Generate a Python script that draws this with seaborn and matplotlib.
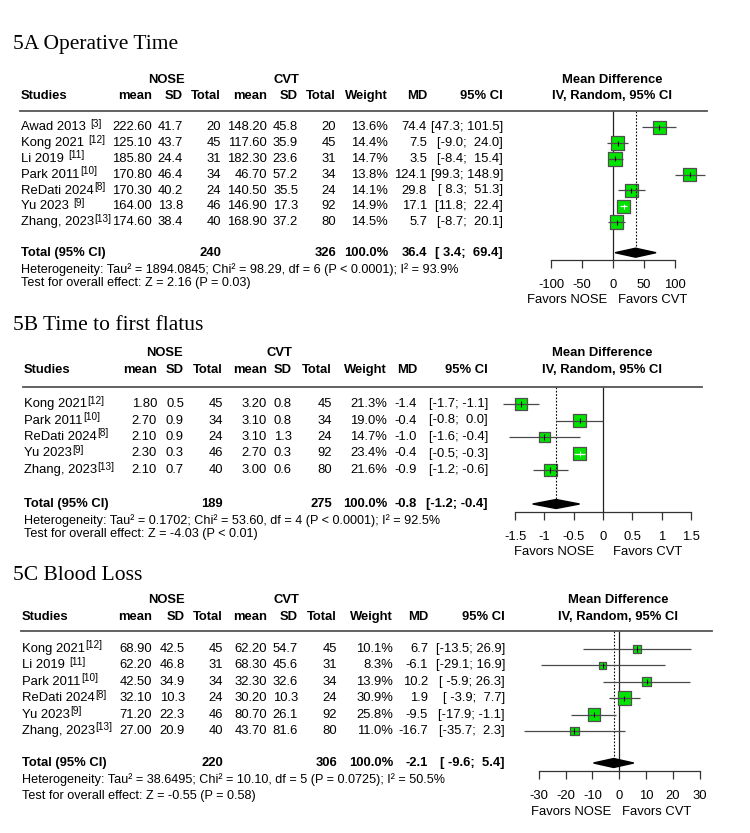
import seaborn as sns
import matplotlib.pyplot as plt
from matplotlib.lines import Line2D
import numpy as np
import pandas as pd

# ---- 5A Operative Time ----
a_studies = ["Awad 2013 ", "Kong 2021 ", "Li 2019 ", "Park 2011", "ReDati 2024", "Yu 2023 ", "Zhang, 2023"]
a_refs = ["[3]", "[12]", "[11]", "[10]", "[8]", "[9]", "[13]"]
a_nose_mean = [222.60, 125.10, 185.80, 170.80, 170.30, 164.00, 174.60]
a_nose_sd = [41.7, 43.7, 24.4, 46.4, 40.2, 13.8, 38.4]
a_nose_n = [20, 45, 31, 34, 24, 46, 40]
a_cvt_mean = [148.20, 117.60, 182.30, 46.70, 140.50, 146.90, 168.90]
a_cvt_sd = [45.8, 35.9, 23.6, 57.2, 35.5, 17.3, 37.2]
a_cvt_n = [20, 45, 31, 34, 24, 92, 80]
a_weight = [13.6, 14.4, 14.7, 13.8, 14.1, 14.9, 14.5]
a_md = [74.4, 7.5, 3.5, 124.1, 29.8, 17.1, 5.7]
a_lo = [47.3, -9.0, -8.4, 99.3, 8.3, 11.8, -8.7]
a_hi = [101.5, 24.0, 15.4, 148.9, 51.3, 22.4, 20.1]
a_total = [240, 326, 36.4, 3.4, 69.4]  # NOSE n, CVT n, MD, lower, upper
a_het = "Heterogeneity: Tau² = 1894.0845; Chi² = 98.29, df = 6 (P < 0.0001); I² = 93.9%"
a_test = "Test for overall effect: Z = 2.16 (P = 0.03)"
a_ticks = [-100, -50, 0, 50, 100]

# ---- 5B Time to first flatus ----
b_studies = ["Kong 2021", "Park 2011", "ReDati 2024", "Yu 2023", "Zhang, 2023"]
b_refs = ["[12]", "[10]", "[8]", "[9]", "[13]"]
b_nose_mean = [1.80, 2.70, 2.10, 2.30, 2.10]
b_nose_sd = [0.5, 0.9, 0.9, 0.3, 0.7]
b_nose_n = [45, 34, 24, 46, 40]
b_cvt_mean = [3.20, 3.10, 3.10, 2.70, 3.00]
b_cvt_sd = [0.8, 0.8, 1.3, 0.3, 0.6]
b_cvt_n = [45, 34, 24, 92, 80]
b_weight = [21.3, 19.0, 14.7, 23.4, 21.6]
b_md = [-1.4, -0.4, -1.0, -0.4, -0.9]
b_lo = [-1.7, -0.8, -1.6, -0.5, -1.2]
b_hi = [-1.1, 0.0, -0.4, -0.3, -0.6]
b_total = [189, 275, -0.8, -1.2, -0.4]
b_het = "Heterogeneity: Tau² = 0.1702; Chi² = 53.60, df = 4 (P < 0.0001); I² = 92.5%"
b_test = "Test for overall effect: Z = -4.03 (P < 0.01)"
b_ticks = [-1.5, -1, -0.5, 0, 0.5, 1, 1.5]

# ---- 5C Blood Loss ----
c_studies = ["Kong 2021", "Li 2019 ", "Park 2011", "ReDati 2024", "Yu 2023", "Zhang, 2023"]
c_refs = ["[12]", "[11]", "[10]", "[8]", "[9]", "[13]"]
c_nose_mean = [68.90, 62.20, 42.50, 32.10, 71.20, 27.00]
c_nose_sd = [42.5, 46.8, 34.9, 10.3, 22.3, 20.9]
c_nose_n = [45, 31, 34, 24, 46, 40]
c_cvt_mean = [62.20, 68.30, 32.30, 30.20, 80.70, 43.70]
c_cvt_sd = [54.7, 45.6, 32.6, 10.3, 26.1, 81.6]
c_cvt_n = [45, 31, 34, 24, 92, 80]
c_weight = [10.1, 8.3, 13.9, 30.9, 25.8, 11.0]
c_md = [6.7, -6.1, 10.2, 1.9, -9.5, -16.7]
c_lo = [-13.5, -29.1, -5.9, -3.9, -17.9, -35.7]
c_hi = [26.9, 16.9, 26.3, 7.7, -1.1, 2.3]
c_total = [220, 306, -2.1, -9.6, 5.4]
c_het = "Heterogeneity: Tau² = 38.6495; Chi² = 10.10, df = 5 (P = 0.0725); I² = 50.5%"
c_test = "Test for overall effect: Z = -0.55 (P = 0.58)"
c_ticks = [-30, -20, -10, 0, 10, 20, 30]

W, H = 750, 833
FS = 9.4
FS_NOTE = 9.1
GREEN = "#00e400"

plt.rcParams["font.family"] = ["Liberation Sans", "DejaVu Sans"]

# pixel layout of each panel
panels = [
    dict(title="5A Operative Time", studies=a_studies, refs=a_refs,
         cols=[a_nose_mean, a_nose_sd, a_nose_n, a_cvt_mean, a_cvt_sd, a_cvt_n],
         weight=a_weight, md=a_md, lo=a_lo, hi=a_hi, total=a_total, het=a_het, test=a_test, ticks=a_ticks,
         title_y=45, group_y=80, header_y=96, line_y=111, row0=127.3, dy=15.8, total_y=252.7,
         het_y=270, test_y=283, axis_y=260, zero=613, ppu=0.62, favors_y=300, favor_x=(567, 653),
         md_x=612, line_x=(20, 707), colx=[152, 183, 221, 267, 298, 336, 388, 427],
         ci_x=503, nose_x=166, cvt_x=286, studies_x=21),
    dict(title="5B Time to first flatus", studies=b_studies, refs=b_refs,
         cols=[b_nose_mean, b_nose_sd, b_nose_n, b_cvt_mean, b_cvt_sd, b_cvt_n],
         weight=b_weight, md=b_md, lo=b_lo, hi=b_hi, total=b_total, het=b_het, test=b_test, ticks=b_ticks,
         title_y=325, group_y=353, header_y=370, line_y=387, row0=404, dy=16.5, total_y=504,
         het_y=521, test_y=534, axis_y=512, zero=603, ppu=58.6, favors_y=552, favor_x=(554, 648),
         md_x=602, line_x=(23, 702), colx=[157, 184, 223, 267, 292, 332, 387, 417],
         ci_x=488, nose_x=164, cvt_x=279, studies_x=24),
    dict(title="5C Blood Loss", studies=c_studies, refs=c_refs,
         cols=[c_nose_mean, c_nose_sd, c_nose_n, c_cvt_mean, c_cvt_sd, c_cvt_n],
         weight=c_weight, md=c_md, lo=c_lo, hi=c_hi, total=c_total, het=c_het, test=c_test, ticks=c_ticks,
         title_y=575, group_y=600, header_y=617, line_y=631, row0=649, dy=16.4, total_y=763,
         het_y=780, test_y=796, axis_y=771, zero=619.3, ppu=2.683, favors_y=812, favor_x=(571, 657),
         md_x=618, line_x=(21, 712), colx=[152, 185, 223, 267, 298, 337, 393, 428],
         ci_x=505, nose_x=166, cvt_x=286, studies_x=22),
]

fig = plt.figure(figsize=(W / 100, H / 100), dpi=100)
fig.patch.set_facecolor("white")
renderer = fig.canvas.get_renderer()


def txt(x, y, s, ha="left", weight="normal", size=FS, **kw):
    return fig.text(x / W, 1 - y / H, s, ha=ha, va="center", fontsize=size, fontweight=weight, **kw)


def ci_strings(lo, hi):
    lo_s = ["{:.1f}".format(v) for v in lo]
    hi_s = ["{:.1f}".format(v) for v in hi]
    wl = max(len(s) for s in lo_s)
    wh = max(len(s) for s in hi_s)
    return ["[" + a.rjust(wl) + "; " + b.rjust(wh) + "]" for a, b in zip(lo_s, hi_s)]


def draw_table(p):
    txt(13, p["title_y"], p["title"], size=15.5, family="Liberation Serif")
    txt(p["nose_x"], p["group_y"], "NOSE", ha="center", weight="bold")
    txt(p["cvt_x"], p["group_y"], "CVT", ha="center", weight="bold")
    txt(p["studies_x"], p["header_y"], "Studies", weight="bold")
    heads = ["mean", "SD", "Total", "mean", "SD", "Total", "Weight", "MD"]
    for x, h in zip(p["colx"], heads):
        txt(x, p["header_y"], h, ha="right", weight="bold")
    txt(p["ci_x"], p["header_y"], "95% CI", ha="right", weight="bold")
    txt(p["md_x"], p["group_y"], "Mean Difference", ha="center", weight="bold")
    txt(p["md_x"], p["header_y"], "IV, Random, 95% CI", ha="center", weight="bold")
    x0, x1 = p["line_x"]
    fig.add_artist(Line2D([x0 / W, x1 / W], [1 - p["line_y"] / H] * 2, color="#555555", lw=1.3))

    fmts = ["{:.2f}", "{:.1f}", "{:d}", "{:.2f}", "{:.1f}", "{:d}"]
    t = p["total"]
    cis = ci_strings(p["lo"] + [t[3]], p["hi"] + [t[4]])
    for i, name in enumerate(p["studies"]):
        y = p["row0"] + i * p["dy"]
        tx = txt(p["studies_x"], y, name)
        x_end = tx.get_window_extent(renderer).x1
        txt(x_end + 0.5, y - 3.5, p["refs"][i], size=7.2)
        for x, col, f in zip(p["colx"][:6], p["cols"], fmts):
            txt(x, y, f.format(col[i]), ha="right")
        txt(p["colx"][6], y, "{:.1f}%".format(p["weight"][i]), ha="right")
        txt(p["colx"][7], y, "{:.1f}".format(p["md"][i]), ha="right")
        txt(p["ci_x"], y, cis[i], ha="right")

    ty = p["total_y"]
    txt(p["studies_x"], ty, "Total (95% CI)", weight="bold")
    txt(p["colx"][2], ty, str(t[0]), ha="right", weight="bold")
    txt(p["colx"][5], ty, str(t[1]), ha="right", weight="bold")
    txt(p["colx"][6], ty, "100.0%", ha="right", weight="bold")
    txt(p["colx"][7], ty, "{:.1f}".format(t[2]), ha="right", weight="bold")
    txt(p["ci_x"], ty, cis[-1], ha="right", weight="bold")
    txt(p["studies_x"], p["het_y"], p["het"], size=FS_NOTE)
    txt(p["studies_x"], p["test_y"], p["test"], size=FS_NOTE)
    txt(p["favor_x"][0], p["favors_y"], "Favors NOSE", ha="center")
    txt(p["favor_x"][1], p["favors_y"], "Favors CVT", ha="center")


def draw_forest(p):
    L, R = 478, 722
    top, bot = p["line_y"], p["axis_y"]
    ax = fig.add_axes([L / W, 1 - bot / H, (R - L) / W, (bot - top) / H])
    ax.patch.set_alpha(0)
    ax.set_xlim((L - p["zero"]) / p["ppu"], (R - p["zero"]) / p["ppu"])
    ytop = (top - p["row0"]) / p["dy"]
    ax.set_ylim((bot - p["row0"]) / p["dy"], ytop)

    df = pd.DataFrame(dict(row=np.arange(len(p["md"])), md=p["md"], lo=p["lo"], hi=p["hi"], w=p["weight"]))
    wmax = df["w"].max()
    side_px = 13.5
    smax = (side_px * 0.72) ** 2
    sns.scatterplot(data=df, x="md", y="row", size="w", size_norm=(0, wmax), sizes=(0, smax),
                    marker="s", color=GREEN, edgecolor="#505050", linewidth=0.9, legend=False,
                    ax=ax, zorder=2)
    half = side_px * np.sqrt(df["w"] / wmax) / 2 / p["ppu"]
    inside = (df["lo"] > df["md"] - half) & (df["hi"] < df["md"] + half)
    cols = np.where(inside, "white", "#4a4a4a")
    ax.hlines(df["row"], df["lo"], df["hi"], colors=cols, lw=0.9, zorder=3)
    ax.scatter(df["md"], df["row"], marker="|", s=14, c=np.where(inside, "white", "black"), lw=0.8, zorder=4)

    t = p["total"]
    trow = (p["total_y"] - p["row0"]) / p["dy"]
    h = 4.5 / p["dy"]
    ax.fill([t[3], t[2], t[4], t[2]], [trow, trow - h, trow, trow + h], color="black", zorder=3)
    ax.axvline(0, color="#222222", lw=0.9, zorder=1)
    ax.vlines(t[2], ytop, trow - h, colors="black", linestyles=(0, (1.5, 1.5)), lw=0.8)

    for s in ["top", "left", "right"]:
        ax.spines[s].set_visible(False)
    ax.spines["bottom"].set_bounds(p["ticks"][0], p["ticks"][-1])
    ax.spines["bottom"].set_color("#333333")
    ax.spines["bottom"].set_linewidth(0.9)
    ax.set_xticks(p["ticks"])
    ax.set_xticklabels(["{:g}".format(v) for v in p["ticks"]])
    ax.set_yticks([])
    ax.tick_params(axis="x", direction="out", length=6, width=0.9, color="#333333", pad=8, labelsize=FS)
    ax.set_xlabel("")
    ax.set_ylabel("")


for p in panels:
    draw_table(p)
    draw_forest(p)

fig.savefig("out.png", dpi=100, facecolor="white")
